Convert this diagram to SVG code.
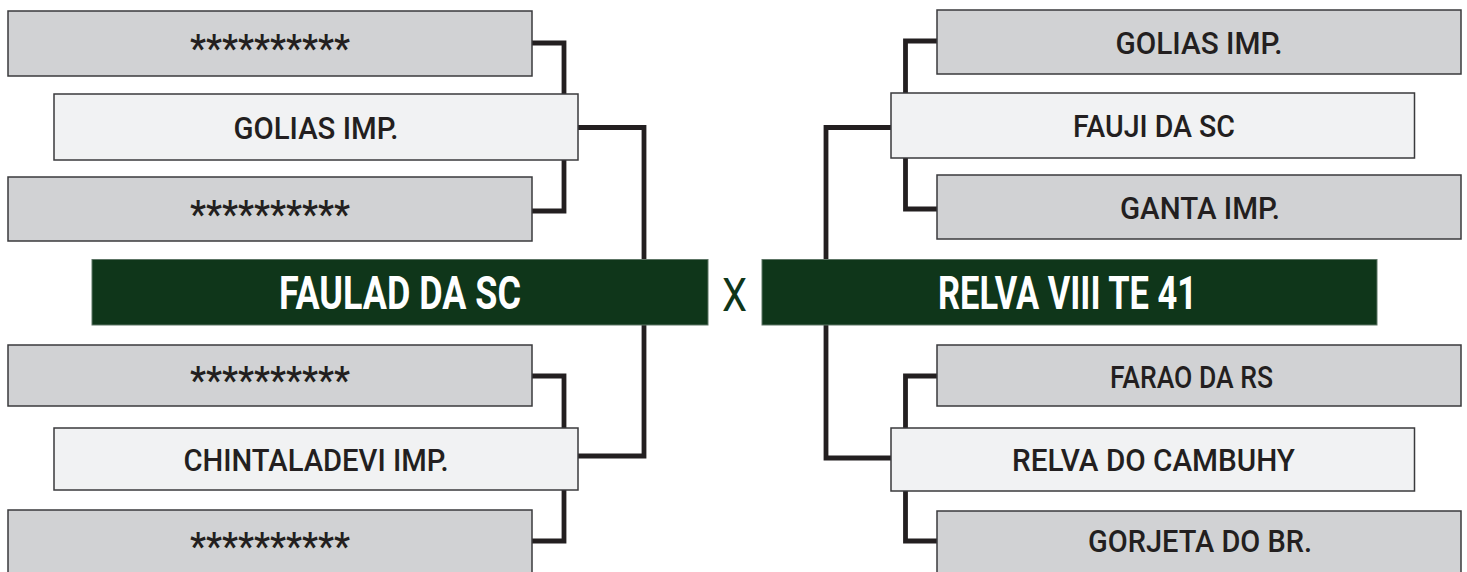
<svg xmlns="http://www.w3.org/2000/svg" width="1467" height="572" viewBox="0 0 1467 572">
<style>
.g{fill:#d1d2d4;stroke:#3a3a3c;stroke-width:1.5}
.l{fill:#f1f2f3;stroke:#3a3a3c;stroke-width:1.5}
.w{fill:#0f361a;stroke:#5d7565;stroke-width:1}
.t{font-family:Roboto,"Liberation Sans",sans-serif;font-size:32px;font-weight:500;fill:#231f20;text-anchor:middle}
.a{font-family:Roboto,"Liberation Sans",sans-serif;font-size:38px;font-weight:500;fill:#231f20;text-anchor:middle}
.b{font-family:Roboto,"Liberation Sans",sans-serif;font-size:46px;font-weight:700;fill:#ffffff;text-anchor:middle}
.x{font-family:Roboto,"Liberation Sans",sans-serif;font-size:47px;font-weight:400;fill:#0f361a;text-anchor:middle}
.c{fill:none;stroke:#231f20;stroke-width:4.8;stroke-linejoin:miter;stroke-linecap:butt}
</style>
<g id="connectors">
<path class="c" d="M532,43 H564 V94"/>
<path class="c" d="M564,160 V211 H532"/>
<path class="c" d="M578,127.5 H644 V260"/>
<path class="c" d="M532,376 H564 V428"/>
<path class="c" d="M564,490 V541 H532"/>
<path class="c" d="M578,456 H644 V325"/>
<path class="c" d="M937,41 H905.5 V93"/>
<path class="c" d="M905.5,158 V209 H937"/>
<path class="c" d="M891,127.5 H826 V260"/>
<path class="c" d="M937,376 H905.5 V428"/>
<path class="c" d="M905.5,491 V541 H937"/>
<path class="c" d="M891,458 H826 V325"/>
</g>
<g id="l1"><rect class="g" x="8" y="11" width="524" height="65"/><text class="a" x="270" y="62" textLength="160" lengthAdjust="spacingAndGlyphs">**********</text></g>
<g id="l2"><rect class="l" x="54" y="94" width="524" height="66"/><text class="t" x="316" y="138.5" textLength="165" lengthAdjust="spacingAndGlyphs">GOLIAS IMP.</text></g>
<g id="l3"><rect class="g" x="8" y="177" width="524" height="64"/><text class="a" x="270" y="228" textLength="160" lengthAdjust="spacingAndGlyphs">**********</text></g>
<g id="lf"><rect class="w" x="92" y="259.5" width="616" height="65.5"/><text class="b" x="400" y="308.5" textLength="242" lengthAdjust="spacingAndGlyphs">FAULAD DA SC</text></g>
<g id="l4"><rect class="g" x="8" y="345" width="524" height="61"/><text class="a" x="270" y="394" textLength="160" lengthAdjust="spacingAndGlyphs">**********</text></g>
<g id="l5"><rect class="l" x="54" y="428" width="524" height="62"/><text class="t" x="316" y="470.5" textLength="265" lengthAdjust="spacingAndGlyphs">CHINTALADEVI IMP.</text></g>
<g id="l6"><rect class="g" x="8" y="510" width="524" height="66"/><text class="a" x="270" y="560" textLength="160" lengthAdjust="spacingAndGlyphs">**********</text></g>
<g id="vs"><text class="x" x="734.5" y="311" textLength="25" lengthAdjust="spacingAndGlyphs">X</text></g>
<g id="r1"><rect class="g" x="937" y="10" width="524" height="64"/><text class="t" x="1199" y="53.5" textLength="167" lengthAdjust="spacingAndGlyphs">GOLIAS IMP.</text></g>
<g id="r2"><rect class="l" x="891" y="93" width="523.5" height="65"/><text class="t" x="1154" y="136.5" textLength="162" lengthAdjust="spacingAndGlyphs">FAUJI DA SC</text></g>
<g id="r3"><rect class="g" x="937" y="175" width="524" height="64"/><text class="t" x="1200" y="218.5" textLength="160" lengthAdjust="spacingAndGlyphs">GANTA IMP.</text></g>
<g id="rf"><rect class="w" x="762" y="259.5" width="615" height="65.5"/><text class="b" x="1067.5" y="308.5" textLength="259" lengthAdjust="spacingAndGlyphs">RELVA VIII TE 41</text></g>
<g id="r4"><rect class="g" x="937" y="345" width="524" height="61"/><text class="t" x="1191.5" y="387.5" textLength="163" lengthAdjust="spacingAndGlyphs">FARAO DA RS</text></g>
<g id="r5"><rect class="l" x="891" y="428" width="523.5" height="63"/><text class="t" x="1153.5" y="470.5" textLength="283" lengthAdjust="spacingAndGlyphs">RELVA DO CAMBUHY</text></g>
<g id="r6"><rect class="g" x="937" y="511" width="524" height="66"/><text class="t" x="1200" y="551.5" textLength="224" lengthAdjust="spacingAndGlyphs">GORJETA DO BR.</text></g>
</svg>
